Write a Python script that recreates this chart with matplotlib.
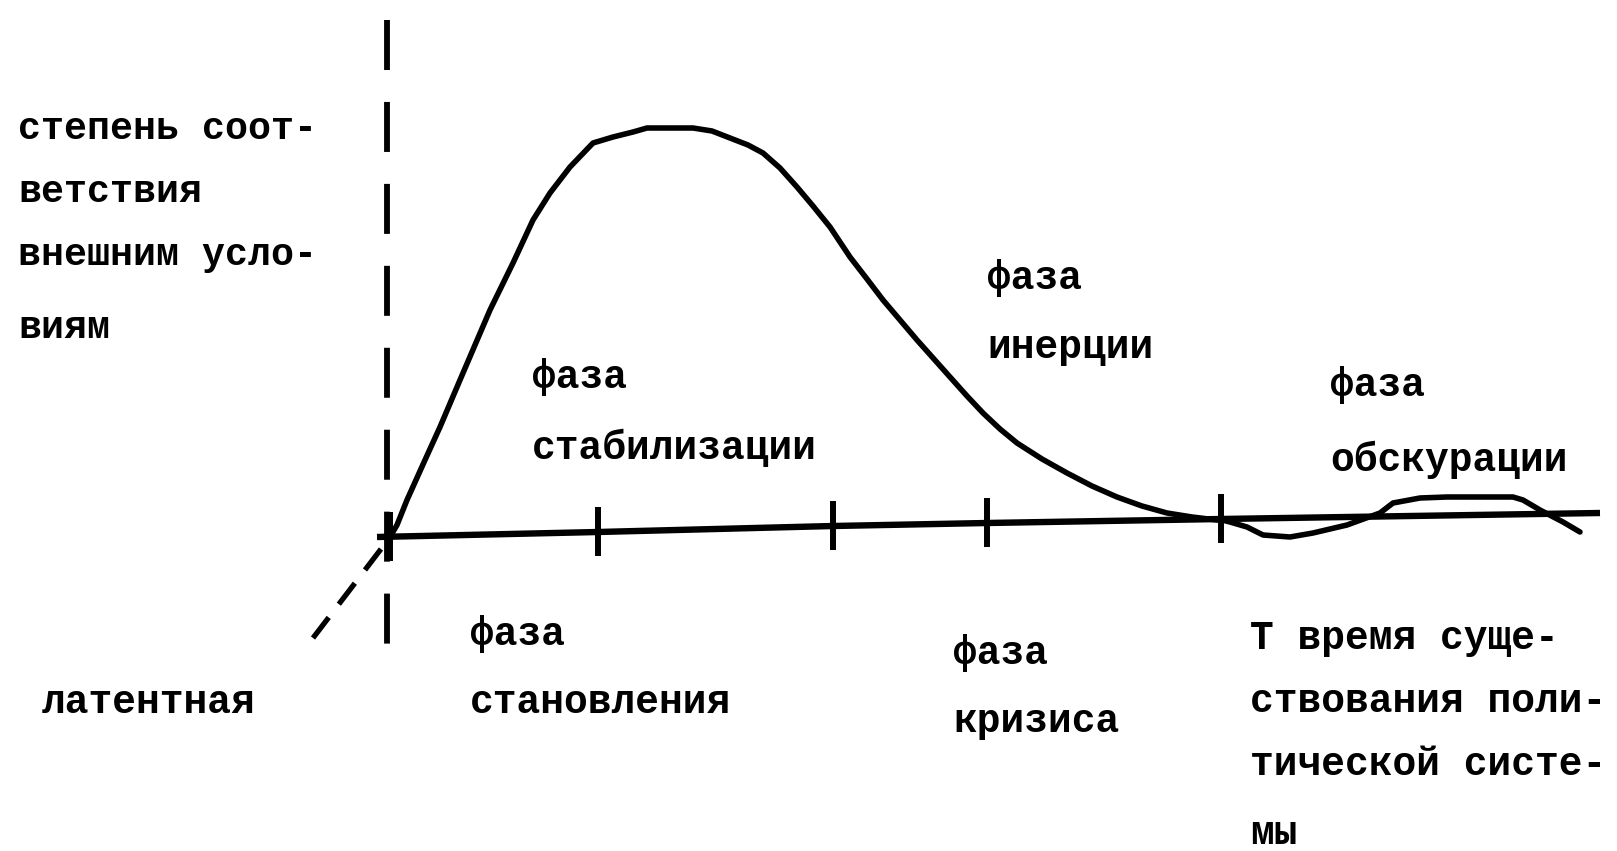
import matplotlib
matplotlib.use("Agg")
import matplotlib.pyplot as plt

plt.rcParams['lines.scale_dashes'] = False

# ---- data (image-space units: x to the right, y downward) ----
curve_x = [390, 397, 407, 425, 440, 460, 475, 490, 513, 533, 550, 570, 593, 613, 633,
           647, 693, 712, 730, 748, 763, 780, 797, 813, 830, 850, 867, 883, 917, 950,
           967, 983, 1000, 1017, 1042, 1067, 1092, 1117, 1142, 1167, 1192, 1217,
           1222, 1230, 1247, 1263, 1290, 1313, 1347, 1380, 1393, 1420, 1447, 1513,
           1523, 1540, 1563, 1580]
curve_y = [537, 525, 500, 460, 427, 380, 345, 310, 263, 220, 193, 167, 143, 137, 132,
           128, 128, 131, 138, 145, 153, 168, 187, 206, 227, 257, 279, 300, 340, 377,
           396, 413, 429, 443, 459, 473, 486, 497, 506, 513, 517, 520,
           520, 522, 527, 535, 537, 533, 525, 513, 503, 498, 497, 497,
           500, 510, 522, 532]

axis_x = [377, 598, 833, 987, 1221, 1600]
axis_y = [537, 532, 526, 523, 519, 513]

tick_x = [390, 598, 833, 987, 1221]
tick_y = [537, 532, 526, 523, 519]

vdash_x = [387, 387]
vdash_y = [20, 644]

diag_x = [381, 313]
diag_y = [549, 638]

y_label = ["степень соот-", "ветствия", "внешним усло-", "виям"]
x_label = ["Т время суще-", "ствования поли-", "тической систе-", "мы"]
phase_labels = [
    ("фаза", "стабилизации"),
    ("фаза", "инерции"),
    ("фаза", "обскурации"),
    ("фаза", "становления"),
    ("фаза", "кризиса"),
]
latent_label = "латентная"

# ---- figure ----
fig = plt.figure(figsize=(16.17, 8.51), dpi=100)
ax = fig.add_axes([0, 0, 1, 1])
ax.set_xlim(0, 1617)
ax.set_ylim(851, 0)
ax.axis('off')

ink = 'black'
ax.plot(vdash_x, vdash_y, color=ink, lw=4.2, linestyle=(0, (36, 23)),
        solid_capstyle='butt')
ax.plot(diag_x, diag_y, color=ink, lw=3.8, linestyle=(0, (19, 12)))
ax.plot(axis_x, axis_y, color=ink, lw=4.6, solid_capstyle='butt')
for tx, ty in zip(tick_x, tick_y):
    ax.plot([tx, tx], [ty - 25, ty + 24], color=ink, lw=4.3, solid_capstyle='butt')
ax.plot(curve_x, curve_y, color=ink, lw=4.0, solid_joinstyle='round',
        solid_capstyle='round')

font = dict(family=['Liberation Mono', 'DejaVu Sans Mono'], fontsize=28.5,
            fontweight='bold', color=ink, va='baseline', ha='left')

for s, yb in zip(y_label, [139, 202, 265, 338]):
    ax.text(18, yb, s, **{**font, 'fontsize': 27.5})
for s, yb in zip(x_label, [649, 712, 775, 844]):
    ax.text(1250, yb, s, **font)

phase_pos = [(532, 388, 459), (987, 289, 358), (1330, 396, 471),
             (470, 645, 713), (953, 664, 732)]
for (l1, l2), (px, y1, y2) in zip(phase_labels, phase_pos):
    ax.text(px, y1, l1, **font)
    ax.text(px, y2, l2, **font)

ax.text(42, 713, latent_label, **font)

fig.savefig("out.png", dpi=100, facecolor='white')
